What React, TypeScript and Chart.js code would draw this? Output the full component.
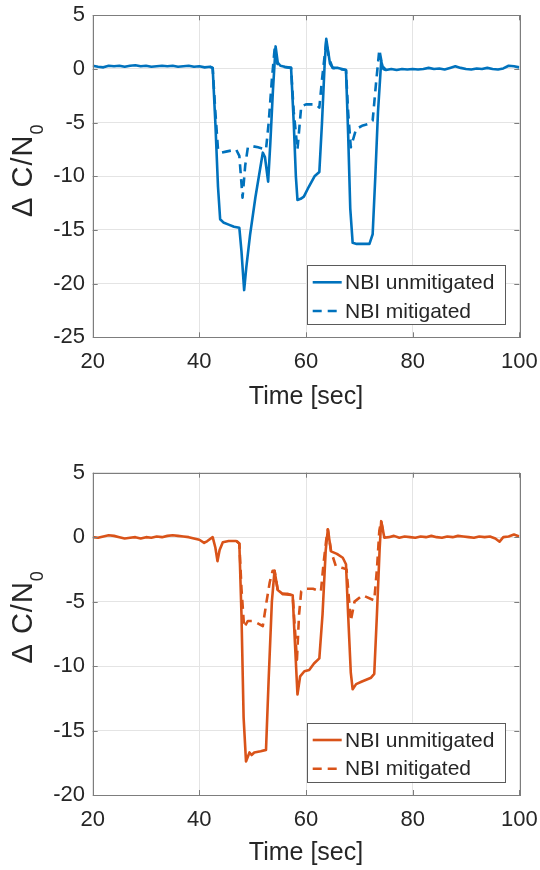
import React, { useEffect, useRef } from "react";
import { Chart, registerables } from "chart.js";

Chart.register(...registerables);

// ---------------- data ----------------
const topTime = [
  20, 21, 22, 23, 24, 25, 26, 27, 28, 29,
  30, 31, 32, 33, 34, 35, 36, 37, 38, 39,
  40, 41, 42, 42.5, 43, 43.5, 43.9, 44.5, 45.5, 46.5,
  47.5, 47.9, 48.4, 48.8, 49.5, 50.5, 51.5, 51.9, 52.3, 52.9,
  53.3, 53.8, 54.3, 54.7, 55.2, 56, 57.2, 57.7, 58.1, 58.4,
  59, 59.6, 60.5, 61.6, 62.5, 63, 63.5, 63.8, 64.2, 64.5,
  65, 66, 67.5, 67.9, 68.3, 68.75, 69.5, 70.5, 71.9, 72.5,
  73, 73.5, 74.1, 74.5, 75, 76, 77, 78, 79, 80,
  81, 82, 83, 84, 85, 86, 87, 88, 89, 90,
  91, 92, 93, 94, 95, 96, 97, 98, 99, 100,
];
const topUnmitigated = [
  0.3, 0.2, 0.15, 0.3, 0.25, 0.3, 0.2, 0.3, 0.35, 0.25,
  0.3, 0.2, 0.25, 0.3, 0.25, 0.3, 0.2, 0.25, 0.3, 0.2,
  0.25, 0.15, 0.2, 0.1, -5, -11, -14.0, -14.3, -14.5, -14.7,
  -14.8, -17, -20.6, -18.5, -15.5, -12.0, -9.0, -7.8, -8.2, -10.5,
  -7, -2, 2.1, 0.6, 0.3, 0.2, 0.1, -5, -10, -12.2,
  -12.1, -11.9, -11, -10.0, -9.6, -5, 0.5, 2.8, 1.5, 0.5,
  0.1, 0.1, -0.1, -6, -13, -16.2, -16.3, -16.3, -16.3, -15.4,
  -10, -4, 0.7, 0.0, -0.1, 0.0, -0.1, 0.0, -0.05, 0.0,
  -0.05, 0.0, 0.1, 0.0, 0.05, -0.05, 0.1, 0.25, 0.1, 0.0,
  -0.05, 0.05, 0.0, 0.1, 0.0, -0.05, 0.05, 0.3, 0.25, 0.15,
];
const topMitTime = [
  42, 42.5, 43, 43.5, 44.1, 45, 46, 46.9, 47.5, 48.1,
  48.6, 49.1, 50, 51, 52.5, 53, 53.6, 54.1, 54.6, 55.5,
  57.2, 57.7, 58.4, 59.1, 60, 61, 61.9, 62.5, 63, 63.8,
  64.3, 65, 67.5, 67.9, 68.4, 69.4, 70.5, 71.9, 72.5, 73.1,
  73.75, 74.3, 75,
];
const topMitigated = [
  0.2, 0.1, -4, -7.5, -7.8, -7.7, -7.6, -7.5, -8.1, -12.0,
  -9, -7.3, -7.2, -7.3, -7.5, -5, -1, 1.8, 0.5, 0.2,
  0.1, -4, -7.5, -3.5, -3.3, -3.3, -3.3, -3.6, -1, 2.6,
  1, 0.1, -0.1, -4, -7.3, -5.6, -5.3, -5.1, -4.8, -1.5,
  1.8, 0.3, -0.1,
];

const bottomTime = [
  20, 21, 22, 23, 24, 25, 26, 27, 28, 29,
  30, 31, 32, 33, 34, 35, 36, 37, 38, 39,
  40, 40.9, 41.5, 42.5, 43, 43.4, 43.8, 44.4, 45.5, 46.9,
  47.5, 47.9, 48.3, 48.75, 49.4, 49.8, 50.3, 51.5, 52.5, 53,
  53.6, 54.1, 54.7, 55.6, 56.5, 57.5, 57.9, 58.4, 58.9, 59.7,
  60.6, 61.5, 62.5, 63.1, 63.7, 64.1, 64.7, 65.8, 66.9, 67.5,
  67.9, 68.4, 68.75, 69.4, 70.5, 72.2, 72.8, 73.3, 73.8, 74.1,
  74.7, 75.5, 76.5, 77.5, 78.5, 79.5, 80.5, 81.5, 82.5, 83.5,
  84.5, 85.5, 86.5, 87.5, 88.5, 89.5, 90.5, 91.5, 92.5, 93.5,
  94.5, 95.5, 96.3, 97, 98, 99, 100,
];
const bottomUnmitigated = [
  0.0, -0.05, 0.05, 0.15, 0.1, 0.0, -0.1, -0.05, 0.0, -0.1,
  0.0, -0.05, 0.05, 0.0, 0.1, 0.15, 0.1, 0.05, 0.0, -0.1,
  -0.2, -0.44, -0.3, 0.0, -0.8, -1.86, -1.0, -0.4, -0.3, -0.3,
  -0.5, -6, -14, -17.4, -16.7, -16.9, -16.7, -16.6, -16.5, -11,
  -5, -2.6, -4.1, -4.4, -4.4, -4.5, -8, -12.2, -10.8, -10.4,
  -10.3, -9.8, -9.4, -6, -1, 0.6, -1.1, -1.3, -1.6, -2.1,
  -6, -10.5, -11.8, -11.4, -11.2, -10.9, -10.6, -6, -1, 1.24,
  -0.05, 0.0, 0.1, -0.05, 0.05, 0.0, -0.05, 0.05, 0.0, 0.1,
  0.0, -0.05, 0.05, 0.0, 0.1, 0.05, 0.0, -0.05, 0.05, 0.0,
  0.05, -0.1, -0.35, 0.0, 0.05, 0.2, 0.05,
];
const bottomMitTime = [
  47, 47.5, 47.9, 48.4, 49.1, 50, 50.6, 51.9, 52.6, 53.2,
  53.75, 54.1, 54.7, 55.6, 57.5, 57.9, 58.3, 58.7, 59.1, 60,
  61.3, 62.8, 63.3, 63.8, 64.1, 64.7, 65.6, 66.9, 67.6, 68,
  68.4, 69.1, 70.6, 72.2, 72.8, 73.3, 73.75, 74.1, 74.7,
];
const bottomMitigated = [
  -0.3, -0.5, -4, -7.0, -6.5, -6.5, -6.6, -6.9, -5, -3.5,
  -2.6, -2.6, -4.1, -4.4, -4.5, -7, -9.5, -6, -4.2, -4.0,
  -4.0, -4.2, -2, -0.2, 0.6, -1.1, -2.25, -2.4, -2.5, -4.5,
  -6.5, -5.0, -4.5, -4.8, -4.9, -2.5, 0.5, 1.24, -0.05,
];

const seriesNames = ["NBI unmitigated", "NBI mitigated"];
const xTitle = "Time [sec]";
const yTitleMain = "\u0394 C/N";
const yTitleSub = "0";

// ---------------- style ----------------
const FONT = "'Liberation Sans', Arial, Helvetica, sans-serif";
const TEXT = "#262626";
const AXIS = "#7d7d7d";
const GRID = "#e4e4e4";
const TICK_SIZE = 22;
const TITLE_SIZE = 25;

type Spec = {
  top: number;
  padTop: number;
  xAxisHeight: number;
  tickPadX: number;
  titlePadBottom: number;
  yTitleShift: number;
  yMin: number;
  color: string;
  unT: number[];
  unV: number[];
  miT: number[];
  miV: number[];
};

const pts = (t: number[], v: number[]) => t.map((x, i) => ({ x, y: v[i] }));

function makePlugin(color: string, yShift: number) {
  return {
    id: "matlabDecor",
    afterDraw(chart: any) {
      const ctx: CanvasRenderingContext2D = chart.ctx;
      const { left, top, right, bottom } = chart.chartArea;
      const xs = chart.scales.x;
      const ys = chart.scales.y;
      ctx.save();
      // frame
      ctx.strokeStyle = AXIS;
      ctx.lineWidth = 1;
      ctx.strokeRect(Math.round(left) + 0.5, Math.round(top) + 0.5, Math.round(right - left), Math.round(bottom - top));
      // inward ticks
      const tl = 5;
      ctx.beginPath();
      xs.ticks.forEach((t: any) => {
        const px = Math.round(xs.getPixelForValue(t.value)) + 0.5;
        ctx.moveTo(px, bottom);
        ctx.lineTo(px, bottom - tl);
        ctx.moveTo(px, top);
        ctx.lineTo(px, top + tl);
      });
      ys.ticks.forEach((t: any) => {
        const py = Math.round(ys.getPixelForValue(t.value)) + 0.5;
        ctx.moveTo(left, py);
        ctx.lineTo(left + tl, py);
        ctx.moveTo(right, py);
        ctx.lineTo(right - tl, py);
      });
      ctx.stroke();

      // legend
      const bw = 198.4;
      const bh = 59;
      const bx = right - 13.6 - bw;
      const by = bottom - 13.3 - bh;
      ctx.fillStyle = "#ffffff";
      ctx.fillRect(bx, by, bw, bh);
      ctx.strokeStyle = "#5a5a5a";
      ctx.lineWidth = 1;
      ctx.strokeRect(Math.round(bx) + 0.5, Math.round(by) + 0.5, Math.round(bw), Math.round(bh));
      const rows = [by + 17.3, by + 46];
      rows.forEach((ry, i) => {
        ctx.beginPath();
        ctx.strokeStyle = color;
        ctx.lineWidth = 2.6;
        ctx.setLineDash(i === 1 ? [9, 6] : []);
        ctx.moveTo(bx + 5.4, ry);
        ctx.lineTo(bx + 34.4, ry);
        ctx.stroke();
        ctx.setLineDash([]);
        ctx.fillStyle = TEXT;
        ctx.font = `21px ${FONT}`;
        ctx.textAlign = "left";
        ctx.textBaseline = "middle";
        ctx.fillText(seriesNames[i], bx + 37.7, ry + 1);
      });

      // y title with subscript
      const cy = (top + bottom) / 2 + yShift;
      ctx.translate(32, cy);
      ctx.rotate(-Math.PI / 2);
      ctx.fillStyle = TEXT;
      ctx.textBaseline = "alphabetic";
      ctx.textAlign = "left";
      (ctx as any).letterSpacing = "1px";
      ctx.font = `29px ${FONT}`;
      const wMain = ctx.measureText(yTitleMain).width;
      ctx.font = `18px ${FONT}`;
      const wSub = ctx.measureText(yTitleSub).width;
      const start = -(wMain + wSub) / 2;
      ctx.font = `29px ${FONT}`;
      ctx.fillText(yTitleMain, start, 0);
      ctx.font = `18px ${FONT}`;
      ctx.fillText(yTitleSub, start + wMain, 11);
      ctx.restore();
    },
  };
}

function Panel({ spec }: { spec: Spec }) {
  const ref = useRef<HTMLCanvasElement>(null);
  useEffect(() => {
    const canvas = ref.current!;
    const chart = new Chart(canvas, {
      type: "line",
      data: {
        datasets: [
          {
            label: seriesNames[0],
            data: pts(spec.unT, spec.unV),
            borderColor: spec.color,
            backgroundColor: spec.color,
            borderWidth: 2.6,
            pointRadius: 0,
            tension: 0,
            borderJoinStyle: "round",
            order: 0,
          },
          {
            label: seriesNames[1],
            data: pts(spec.miT, spec.miV),
            borderColor: spec.color,
            backgroundColor: spec.color,
            borderWidth: 2.6,
            borderDash: [9, 6],
            pointRadius: 0,
            tension: 0,
            borderJoinStyle: "round",
            order: 1,
          },
        ],
      },
      options: {
        responsive: false,
        animation: false,
        devicePixelRatio: 1,
        layout: { padding: { top: spec.padTop, left: 0, right: 20.7, bottom: 0 } },
        plugins: { legend: { display: false }, tooltip: { enabled: false } },
        scales: {
          x: {
            type: "linear",
            min: 20,
            max: 100,
            border: { display: false },
            grid: { color: GRID, drawTicks: false, lineWidth: 1 },
            ticks: { stepSize: 20, color: TEXT, padding: spec.tickPadX, font: { family: FONT, size: TICK_SIZE }, maxRotation: 0 },
            title: {
              display: true,
              text: xTitle,
              color: TEXT,
              font: { family: FONT, size: TITLE_SIZE },
              padding: { top: 0, bottom: spec.titlePadBottom },
            },
            afterFit: (s: any) => {
              s.height = spec.xAxisHeight;
              s.paddingLeft = 0;
              s.paddingRight = 0;
            },
          },
          y: {
            type: "linear",
            min: spec.yMin,
            max: 5,
            border: { display: false },
            grid: { color: GRID, drawTicks: false, lineWidth: 1 },
            ticks: { stepSize: 5, color: TEXT, padding: 7.7, font: { family: FONT, size: TICK_SIZE } },
            afterFit: (s: any) => {
              s.width = 92.7;
              s.paddingTop = 0;
              s.paddingBottom = 0;
            },
          },
        },
      },
      plugins: [makePlugin(spec.color, spec.yTitleShift)],
    } as any);
    return () => chart.destroy();
  }, []);
  return (
    <canvas
      ref={ref}
      width={540}
      height={435}
      style={{ position: "absolute", left: 0, top: spec.top, width: 540, height: 435 }}
    />
  );
}

const topSpec: Spec = {
  top: 0,
  padTop: 15.3,
  xAxisHeight: 97.7,
  tickPadX: 11,
  titlePadBottom: 22.5,
  yTitleShift: -6,
  yMin: -25,
  color: "#0072BD",
  unT: topTime,
  unV: topUnmitigated,
  miT: topMitTime,
  miV: topMitigated,
};

const bottomSpec: Spec = {
  top: 435,
  padTop: 37.7,
  xAxisHeight: 75,
  tickPadX: 11.3,
  titlePadBottom: 2,
  yTitleShift: -17,
  yMin: -20,
  color: "#D95319",
  unT: bottomTime,
  unV: bottomUnmitigated,
  miT: bottomMitTime,
  miV: bottomMitigated,
};

export default function App() {
  return (
    <div style={{ position: "absolute", left: 0, top: 0, width: 540, height: 870, background: "#ffffff" }}>
      <Panel spec={topSpec} />
      <Panel spec={bottomSpec} />
    </div>
  );
}
